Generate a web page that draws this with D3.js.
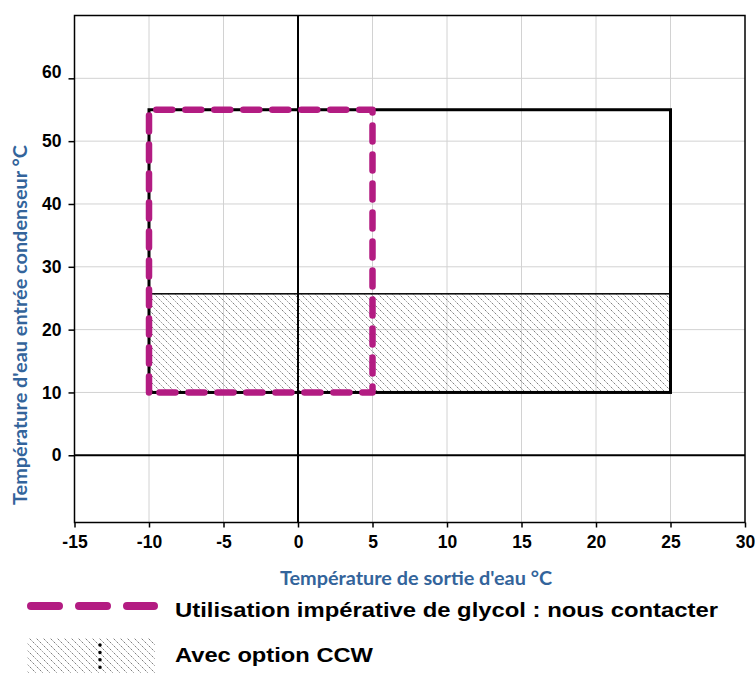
<!DOCTYPE html>
<html><head><meta charset="utf-8">
<script src="https://cdn.jsdelivr.net/npm/d3@7"></script>
<style>html,body{margin:0;padding:0;background:#fff;}svg{display:block;}</style>
</head><body>
<script>
// ---- data ----
const xTicks = [-15, -10, -5, 0, 5, 10, 15, 20, 25, 30];
const yTicks = [0, 10, 20, 30, 40, 50, 60];
const xGrid = [-10, -5, 5, 10, 15, 20, 25];
const yGrid = [10, 20, 30, 40, 50, 60];
const operatingZone = {x0: -10, x1: 25, y0: 10, y1: 55};   // black envelope
const glycolZone    = {x0: -10, x1: 5,  y0: 10, y1: 55};   // magenta dashed
const ccwZone       = {x0: -10, x1: 25, y0: 10, y1: 25.7}; // hatched
const xTitle = "Température de sortie d'eau °C";
const yTitle = "Température d'eau entrée condenseur °C";
const legendLabels = ["Utilisation impérative de glycol : nous contacter", "Avec option CCW"];

const W = 755, H = 673;
const magenta = "#b31c82";
const blue = "#33649b";
const svg = d3.select("body").append("svg").attr("width", W).attr("height", H);

const x = d3.scaleLinear().domain([-15, 30]).range([74.5, 745]);
const y = d3.scaleLinear().domain([-10.7, 70]).range([522.5, 15.5]);

// hatch pattern
const defs = svg.append("defs");
const pat = defs.append("pattern").attr("id", "hatch").attr("patternUnits", "userSpaceOnUse")
  .attr("width", 7).attr("height", 7);
pat.append("path").attr("d", "M-1,-1 L8,8 M-1,6 L1,8 M6,-1 L8,1")
  .attr("stroke", "#333").attr("stroke-width", 0.9).attr("stroke-dasharray", "1,1.2").attr("fill", "none");

// grid
svg.append("g").selectAll("line").data(xGrid).join("line")
  .attr("x1", d => x(d)).attr("x2", d => x(d)).attr("y1", y(70)).attr("y2", y(-10.7))
  .attr("stroke", "#d2d2d2").attr("stroke-width", 1);
svg.append("g").selectAll("line").data(yGrid).join("line")
  .attr("x1", x(-15)).attr("x2", x(30)).attr("y1", d => y(d)).attr("y2", d => y(d))
  .attr("stroke", "#d2d2d2").attr("stroke-width", 1);

// zero lines
svg.append("line").attr("x1", x(0)).attr("x2", x(0)).attr("y1", y(70)).attr("y2", y(-10.7))
  .attr("stroke", "#000").attr("stroke-width", 2);
svg.append("line").attr("x1", x(-15)).attr("x2", x(30)).attr("y1", y(0)).attr("y2", y(0))
  .attr("stroke", "#000").attr("stroke-width", 2);

// hatched CCW zone
svg.append("rect").attr("x", x(ccwZone.x0)).attr("y", y(ccwZone.y1))
  .attr("width", x(ccwZone.x1) - x(ccwZone.x0)).attr("height", y(ccwZone.y0) - y(ccwZone.y1))
  .attr("fill", "url(#hatch)").attr("stroke", "#000").attr("stroke-width", 1.5);

// black operating envelope
svg.append("rect").attr("x", x(operatingZone.x0)).attr("y", y(operatingZone.y1))
  .attr("width", x(operatingZone.x1) - x(operatingZone.x0)).attr("height", y(operatingZone.y0) - y(operatingZone.y1))
  .attr("fill", "none").attr("stroke", "#000").attr("stroke-width", 3);

// glycol dashed
const gz = glycolZone;
svg.append("path")
  .attr("d", d3.line()([[x(gz.x0), y(gz.y0)], [x(gz.x0), y(gz.y1)], [x(gz.x1), y(gz.y1)], [x(gz.x1), y(gz.y0)], [x(gz.x0), y(gz.y0)]]))
  .attr("fill", "none").attr("stroke", magenta).attr("stroke-width", 6.5)
  .attr("stroke-dasharray", "16,13").attr("stroke-linecap", "round").attr("stroke-linejoin", "round");

// frame
svg.append("rect").attr("x", x(-15)).attr("y", y(70)).attr("width", x(30) - x(-15)).attr("height", y(-10.7) - y(70))
  .attr("fill", "none").attr("stroke", "#000").attr("stroke-width", 1.5);

// axes
const xAxis = svg.append("g").attr("transform", `translate(0,${y(-10.7)})`)
  .call(d3.axisBottom(x).tickValues(xTicks).tickSize(5).tickPadding(8).tickFormat(d => String(d)));
const yAxis = svg.append("g").attr("transform", `translate(${x(-15)},0)`)
  .call(d3.axisLeft(y).tickValues(yTicks).tickSize(6).tickPadding(7).tickFormat(d => String(d)));
[xAxis, yAxis].forEach(g => {
  g.select(".domain").remove();
  g.selectAll(".tick line").attr("stroke", "#000").attr("stroke-width", 1.5);
  g.selectAll(".tick text").attr("fill", "#000").style("font-family", "'Liberation Sans', Arial, sans-serif")
    .style("font-weight", "bold").style("font-size", "17.5px");
});
yAxis.selectAll(".tick text").filter(d => d === 60).attr("dy", "-0.03em");

// axis titles
svg.append("text").attr("x", 416).attr("y", 585).attr("text-anchor", "middle")
  .attr("textLength", 272).attr("lengthAdjust", "spacingAndGlyphs")
  .style("font-family", "Lato, 'Open Sans', sans-serif").style("font-weight", "bold").style("font-size", "18.5px")
  .attr("fill", blue).text(xTitle);
svg.append("text").attr("transform", "translate(26.5,325) rotate(-90)").attr("text-anchor", "middle")
  .attr("textLength", 360).attr("lengthAdjust", "spacingAndGlyphs")
  .style("font-family", "Lato, 'Open Sans', sans-serif").style("font-weight", "bold").style("font-size", "18.5px")
  .attr("fill", blue).text(yTitle);

// legend
svg.append("line").attr("x1", 31).attr("x2", 154).attr("y1", 606).attr("y2", 606)
  .attr("stroke", magenta).attr("stroke-width", 8).attr("stroke-linecap", "round").attr("stroke-dasharray", "28,20");
svg.append("rect").attr("x", 27).attr("y", 638).attr("width", 128).attr("height", 40).attr("fill", "url(#hatch)");
svg.append("line").attr("x1", 100).attr("x2", 100).attr("y1", 645).attr("y2", 668)
  .attr("stroke", "#000").attr("stroke-width", 3.5).attr("stroke-linecap", "round").attr("stroke-dasharray", "0,7.4");
const legLen = [543, 198];
svg.selectAll("text.leg").data(legendLabels).join("text").attr("class", "leg")
  .attr("x", 175).attr("y", (d, i) => i === 0 ? 616.5 : 661.5)
  .attr("textLength", (d, i) => legLen[i]).attr("lengthAdjust", "spacingAndGlyphs")
  .style("font-family", "'Liberation Sans', Arial, sans-serif").style("font-weight", "bold").style("font-size", "19.5px")
  .attr("fill", "#000").text(d => d);
</script>
</body></html>
